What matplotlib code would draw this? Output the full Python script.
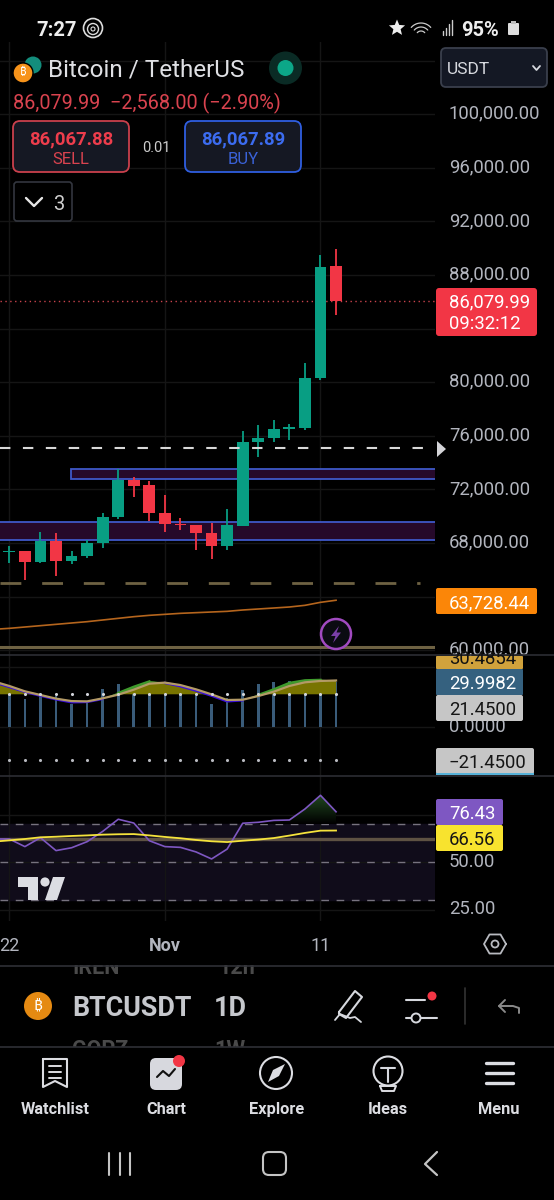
import numpy as np
import matplotlib
matplotlib.use('Agg')
import matplotlib.pyplot as plt
from matplotlib import font_manager as fm
from matplotlib.ft2font import FT2Font
from matplotlib.patches import FancyBboxPatch, Rectangle, Circle, Polygon

plt.rcParams['font.family'] = ['Roboto', 'DejaVu Sans']

# ---------- data ----------
days = list(range(-1, 22))
candle_days = list(range(0, 22))
opens  = [67328, 67378, 66581, 68124, 66631, 67054, 67975, 69915, 72701, 72303, 70213, 69442, 69318, 68721, 67776, 69268, 75512, 75810, 76507, 76607, 80338, 88648]
closes = [67402, 66581, 68124, 66631, 67054, 67975, 69915, 72701, 72278, 70213, 69442, 69343, 68721, 67776, 69318, 75512, 75810, 76482, 76631, 80338, 88622, 86080]
highs  = [67776, 67378, 68795, 68721, 67402, 68223, 70213, 73547, 72900, 72651, 71557, 69840, 69318, 69467, 70537, 76383, 76806, 77154, 76855, 81457, 89492, 89915]
lows   = [66532, 65238, 66482, 65562, 66407, 66905, 67601, 69766, 71407, 69616, 68820, 68945, 67452, 66830, 67477, 69268, 74393, 75537, 75686, 76432, 80189, 85040]
ma_line = [61557, 61632, 61731, 61831, 61930, 62030, 62129, 62254, 62378, 62502, 62602, 62676, 62751, 62801, 62851, 62900, 63000, 63075, 63149, 63224, 63348, 63572, 63728]
price_ticks = [60000, 64000, 68000, 72000, 76000, 80000, 84000, 88000, 92000, 96000, 100000, 104000]
hidden_price_labels = [64000, 84000, 104000]
last_price = 86079.99
level_white = 75100
level_tan_dash = 65024
level_tan_solid = 60224
zone_upper = (72757, 73522)
zone_lower = (68224, 69590)

hist = [21.2, 18.4, 21.2, 20.1, 15.3, 16.8, 25.1, 28.4, 26.2, 28.9, 25.6, 22.3, 20.5, 15.3, 19.0, 24.0, 28.0, 29.3, 29.9, 29.9, 28.9, 29.5]
di_line = [29.3, 26.2, 23.0, 20.5, 18.1, 16.2, 16.4, 18.4, 22.3, 26.4, 29.9, 28.9, 26.7, 23.8, 20.5, 16.8, 17.5, 21.0, 24.7, 28.9, 30.6, 30.9, 30.0]
adx_line = [29.9, 26.9, 23.4, 21.0, 18.6, 17.0, 16.8, 18.8, 21.2, 24.5, 28.4, 29.1, 27.5, 24.7, 21.4, 17.7, 17.9, 20.3, 23.2, 26.9, 29.3, 30.2, 30.49]
macd_level = 21.45

rsi = [62.1, 62.1, 58.1, 62.8, 56.0, 57.5, 60.7, 66.1, 72.5, 70.5, 61.2, 58.1, 57.7, 55.3, 51.6, 56.8, 70.4, 70.9, 71.9, 72.1, 77.9, 85.1, 76.43]
rsi_ma = [60.7, 61.4, 62.1, 63.0, 63.3, 63.7, 64.0, 64.4, 64.6, 64.7, 64.0, 63.2, 62.5, 61.6, 60.9, 60.5, 61.2, 61.8, 62.6, 63.9, 65.3, 66.5, 66.56]
rsi_levels = [70, 50, 30]
rsi_mid = 62
time_ticks = [0, 10, 20]
time_labels = ['22', 'Nov', '11']

# ---------- layout ----------
W, H = 554, 1200
GREEN, RED = '#089e83', '#f23645'
GRID = '#151515'
LAB = '#b2b5be'
fig = plt.figure(figsize=(W / 100, H / 100), dpi=100, facecolor='black')

def pane(top, bottom):
    a = fig.add_axes([0, 1 - bottom / H, 435 / W, (bottom - top) / H], facecolor='none')
    a.set_xlim(-0.6, 27.36)
    for s in a.spines.values():
        s.set_visible(False)
    a.tick_params(length=0, colors=LAB, labelsize=13.3, pad=10)
    a.yaxis.tick_right()
    a.set_xticks(time_ticks)
    a.set_xticklabels([])
    a.grid(True, color=GRID, lw=1)
    a.set_axisbelow(True)
    return a

x_all = np.array(days)

# price pane
ax = pane(42, 655)
ax.set_ylim(88000 - (655 - 275) / 0.0134, 88000 + (275 - 42) / 0.0134)
ax.set_yticks(price_ticks)
ax.set_yticklabels(['' if t in hidden_price_labels else f'{t:,.2f}' for t in price_ticks], va='center')
for lab in ax.get_yticklabels():
    lab.set_transform(lab.get_transform() + matplotlib.transforms.ScaledTranslation(0, 0.5 / 100, fig.dpi_scale_trans))
for lo, hi, x0 in [(*zone_upper, 3.98), (*zone_lower, -2)]:
    ax.add_patch(Rectangle((x0, lo), 30 - x0, hi - lo, fc='#26092a', ec='#3f58c8', lw=1.3, zorder=1.5))
ax.axhline(level_tan_solid, color='#6e6243', lw=2.2, zorder=1.6)
ax.plot([-0.6, 26.4], [level_tan_dash] * 2, color='#6e6243', lw=2, dashes=(7.5, 7.5), zorder=1.6)
ax.plot(x_all, ma_line, color='#b5651d', lw=1.2, zorder=1.7)
ax.axhline(last_price, color='#c8434d', lw=1, ls=(0, (1, 2.5)), zorder=1.7)
ax.plot([-0.6, 27.36], [level_white] * 2, color='#d8d8d8', lw=1.5, dashes=(5, 6), zorder=4)
cols = [GREEN if c >= o else RED for o, c in zip(opens, closes)]
ax.vlines(candle_days, lows, highs, colors=cols, lw=1.3, zorder=2)
bot = np.minimum(opens, closes)
hgt = np.maximum(np.abs(np.array(closes) - np.array(opens)), 60)
ax.bar(candle_days, hgt, bottom=bot, width=0.76, color=cols, zorder=3)

# MACD / DI pane
am = pane(655, 775.5)
am.set_ylim(-(775.5 - 727) / 1.525, (727 - 655) / 1.525)
am.set_yticks([0, 39.3])
am.set_yticklabels(['0.0000', ''], va='center')
di = np.array(di_line); adx = np.array(adx_line)
top_line = np.maximum(di, adx)
am.bar(candle_days, hist, width=0.17, color='#3a5c7a', zorder=2)
am.fill_between(x_all, macd_level, top_line, where=top_line >= macd_level, interpolate=True, color='#787400', lw=0, zorder=2.5)
am.fill_between(x_all, di, adx, where=di >= adx, interpolate=True, color='#3f8a2c', lw=0.6, zorder=2.6)
am.scatter(candle_days, [macd_level] * 22, s=5, color='#d2d4da', lw=0, zorder=5)
am.scatter(candle_days, [-macd_level] * 22, s=5, color='#b8bac0', lw=0, zorder=5)
di_up = np.where(di >= adx, di, np.nan)
di_dn = np.where(di <= adx, di, np.nan)
am.plot(x_all, di_dn, color='#3a10d8', lw=1.7, zorder=3)
am.plot(x_all, di_up, color='#3f9a2c', lw=1.7, zorder=3)
am.plot(x_all, adx, color='#b39a66', lw=1.6, zorder=3.2)

# RSI pane
ar = pane(776, 921)
ylim_r = (50 - (921 - 862) / 1.9, 50 + (862 - 776) / 1.9)
ar.set_yticks([25, 50, 75])
ar.set_yticklabels(['25.00', '50.00', ''], va='center')
ar.axhspan(rsi_levels[2], rsi_levels[0], color='#100c1a', zorder=0.5)
for lv in rsi_levels:
    ar.plot([-0.6, 27.36], [lv, lv], color='#77737f', lw=1, dashes=(5.5, 5.5), zorder=1)
ar.axhline(rsi_mid, color='#5e5243', lw=2.4, zorder=1.2)
rsi_arr = np.array(rsi)
poly = ar.fill_between(x_all, rsi_levels[0], rsi_arr, where=rsi_arr >= rsi_levels[0], interpolate=True, color='none', lw=0)
ramp = np.linspace(1, 0, 32)[:, None]
rgba = np.dstack([ramp * 0x22 / 255, ramp * 0x4c / 255, ramp * 0x22 / 255, np.ones_like(ramp)])
img = ar.imshow(rgba, origin='upper', extent=[-0.6, 27.36, 70, 86], aspect='auto', zorder=1.1)
img.set_clip_path(poly.get_paths()[-1], transform=ar.transData)
ar.set_xlim(-0.6, 27.36)
ar.set_ylim(*ylim_r)
ar.plot(x_all, rsi_arr, color='#7e57c2', lw=1.2, zorder=2)
ar.plot(x_all, rsi_ma, color='#f5e33c', lw=1.3, zorder=3)
ar.set_xticklabels(time_labels)
ar.tick_params(axis='x', pad=11.5, labelsize=13)
ar.get_xticklabels()[1].set_fontweight('bold')

# ---------- UI overlay in pixel coordinates ----------
ui = fig.add_axes([0, 0, 1, 1], facecolor='none', zorder=10)
ui.set_xlim(0, W); ui.set_ylim(H, 0); ui.axis('off')

def T(x, y, s, size=13.3, color='white', ha='left', weight='normal', z=20):
    return ui.text(x, y, s, fontsize=size, color=color, ha=ha, va='center_baseline', fontweight=weight, zorder=z)

def box(x0, y0, x1, y1, fc, ec='none', r=3, lw=1.2, z=12):
    ui.add_patch(FancyBboxPatch((x0 + r, y0 + r), x1 - x0 - 2 * r, y1 - y0 - 2 * r,
                 boxstyle=f'round,pad={r},rounding_size={r}', fc=fc, ec=ec, lw=lw, zorder=z))

def L(xs, ys, color='#d6d8de', lw=1.5, z=20):
    ui.plot(xs, ys, color=color, lw=lw, zorder=z, solid_capstyle='round', solid_joinstyle='round')

BTC_FAMILY = None
for fam in ('DejaVu Sans', 'Noto Sans', 'Liberation Sans', 'Open Sans', 'Lato', 'Inter', 'Roboto', 'Noto Sans CJK SC'):
    try:
        if FT2Font(fm.findfont(fam, fallback_to_default=False)).get_char_index(0x20BF):
            BTC_FAMILY = fam
            break
    except Exception:
        pass

def btc(x, y, size):
    if BTC_FAMILY:
        ui.text(x, y, '₿', fontsize=size, color='white', ha='center', va='center', fontweight='bold', family=[BTC_FAMILY, 'DejaVu Sans'], zorder=22)
    else:
        ui.text(x, y, 'B', fontsize=size, color='white', ha='center', va='center', fontweight='bold', zorder=22)

# status bar
T(36, 28, '7:27', 14.5, '#eeeeee', weight='bold')
ui.add_patch(Circle((93, 28), 9.5, fc='none', ec='#ddd', lw=1.2, zorder=20))
ui.add_patch(Circle((93, 29), 5.5, fc='none', ec='#ddd', lw=1, zorder=20))
ui.add_patch(Circle((93, 29), 2, fc='none', ec='#ddd', lw=.8, zorder=20))
star = [(397 + r * np.sin(a), 28 - r * np.cos(a)) for a, r in zip(np.arange(10) * np.pi / 5, [8.5, 3.8] * 5)]
ui.add_patch(Polygon(star, fc='#eeeeee', zorder=20))
for r in (5, 9, 13):
    t = np.linspace(-np.pi * .27, np.pi * .27, 12)
    L(421 + r * 1.0 * np.sin(t), 36 - r * np.cos(t), '#ccc', .9)
for i, hh in enumerate((4, 7, 11, 15)):
    L([443 + i * 3] * 2, [35, 35 - hh], '#ccc', 1)
T(461, 28, '95%', 14.5, '#eeeeee', weight='bold')
box(508, 23, 519, 35, '#dddddd', r=1)
ui.add_patch(Rectangle((511, 20.5), 5, 3, fc='#bbbbbb', zorder=20))

# header
ui.add_patch(Circle((33, 65), 8.5, fc='#138d7c', zorder=13))
ui.add_patch(Circle((23, 73), 10, fc='#f7931a', ec='black', lw=1, zorder=14))
btc(23, 73, 8)
T(48, 68, 'Bitcoin / TetherUS', 17.5, '#dfe0e4')
ui.add_patch(Circle((285.5, 68), 16.5, fc='#0a2b25', zorder=13))
ui.add_patch(Circle((285.5, 68), 8, fc='#0ca788', zorder=14))
T(13, 101, '86,079.99  −2,568.00 (−2.90%)', 14.3, '#d9434f')
box(13, 121, 129, 172, '#151823', '#c9404c', r=7, lw=1.3)
T(71, 137, '86,067.88', 13.3, '#ee3d4c', 'center', 'bold')
T(71, 158, 'SELL', 12, '#d9434f', 'center')
T(156, 147, '0.01', 10.5, '#cccccc', 'center')
box(185, 121, 301, 172, '#151823', '#2f5ee0', r=7, lw=1.3)
T(243, 137, '86,067.89', 13.3, '#3c6cf0', 'center', 'bold')
T(243, 158, 'BUY', 12, '#3a62d8', 'center')
box(14, 182, 72, 221, '#000000', '#33363f', r=3, lw=1.2)
L([26, 34, 42], [198, 206, 198], '#e6e6e6', 1.7)
T(53, 202, '3', 14.5, '#cfcfcf')
box(441, 48, 547, 87, '#141824', '#3a3f4c', r=5, lw=1.3)
T(447, 68, 'USDT', 12.5, '#d7d9df')
L([533, 536.5, 540], [66, 70, 66], '#d7d9df', 1.3)

# price pane labels
box(436, 288, 537, 336, '#f23645', r=3)
T(449, 300, '86,079.99', 13.3, 'white', z=21)
T(449, 322, '09:32:12', 13.3, 'white', z=21)
ui.add_patch(Polygon([(437, 441), (446, 449), (437, 457)], fc='#d4d4d8', zorder=15))
box(436, 588, 537, 614, '#fb8608', r=2)
T(449, 601, '63,728.44', 13.3, 'white', z=21)
ui.add_patch(Circle((336, 634), 15, fc='#0b0b12', ec='#a14ac0', lw=1.8, zorder=15))
ui.add_patch(Polygon([(339, 626), (331, 636), (335.5, 636), (333, 643), (341, 632.5), (336.5, 632.5)], fc='#7b3fa8', zorder=16))
L([0, 554], [655, 655], '#2c2d33', 1.2, 11)
box(436, 656, 523, 669, '#d0a23c', r=1, z=12)
T(449, 657, '30.4854', 13.3, '#111111', z=13)
box(436, 669, 523, 695, '#35617f', r=1, z=14)
T(449, 682, '29.9982', 13.3, 'white')
box(436, 695, 523, 721, '#c6c6c6', r=2, z=14)
T(449, 708, '21.4500', 13.3, '#151515')
box(436, 748, 534, 774, '#c6c6c6', r=2, z=14)
T(449, 761, '−21.4500', 13.3, '#151515')
ui.add_patch(Rectangle((436, 773), 98, 2, fc='#56b1d8', zorder=15))
L([0, 554], [775.5, 775.5], '#2c2d33', 1.2, 11)
box(436, 799, 503, 825, '#7e57c2', r=2, z=14)
T(449, 812, '76.43', 13.3, 'white')
box(436, 825, 503, 851, '#f8e32e', r=2, z=14)
T(449, 838, '66.56', 13.3, '#151515')

# TradingView logo
ui.add_patch(Polygon([(18, 877), (38, 877), (38, 900), (27.5, 900), (27.5, 887), (18, 887)], fc='#dcdde3', zorder=15))
ui.add_patch(Circle((45, 882), 4.6, fc='#dcdde3', zorder=15))
ui.add_patch(Polygon([(53, 877), (65, 877), (57, 900), (45, 900)], fc='#dcdde3', zorder=15))

# hexagon
hx = 495 + 11 * np.cos(np.arange(7) * np.pi / 3)
hy = 944 + 11 * np.sin(np.arange(7) * np.pi / 3)
L(hx, hy, '#b8bac0', 1.3)
ui.add_patch(Circle((495, 944), 3.5, fc='none', ec='#b8bac0', lw=1.3, zorder=20))

# bottom toolbar
T(72, 965, 'IREN', 15.5, '#4a4a4a', weight='bold', z=12)
T(218, 965, '12h', 15.5, '#4a4a4a', weight='bold', z=12)
T(72, 1047, 'GOPZ', 15.5, '#4a4a4a', weight='bold', z=12)
T(214, 1047, '1W', 15.5, '#4a4a4a', weight='bold', z=12)
ui.add_patch(Rectangle((0, 953), W, 12, fc='black', zorder=13))
ui.add_patch(Rectangle((0, 1047), W, 20, fc='black', zorder=13))
L([0, 554], [965.5, 965.5], '#2e2f35', 1.2, 14)
L([0, 554], [1047, 1047], '#2e2f35', 1.2, 14)
ui.add_patch(Circle((38, 1006), 14, fc='#e58a12', zorder=15))
btc(38, 1006, 11)
T(72, 1005, 'BTCUSDT', 19.4, '#c6c8cd', weight='bold')
T(214, 1005, '1D', 19.4, '#c6c8cd', weight='bold')
L([339, 355, 362, 346, 339, 339], [1012, 991, 997, 1018, 1014, 1012], '#d6d8de', 1.5)
L([335, 340, 350, 355, 361], [1020, 1014, 1018, 1017, 1022], '#d6d8de', 1.3)
L([406, 425], [1000, 1000]); L([406, 437], [1018, 1018])
ui.add_patch(Circle((416, 1018), 4.5, fc='black', ec='#d6d8de', lw=1.4, zorder=21))
ui.add_patch(Circle((432, 996), 4.5, fc='#f23645', zorder=21))
L([465, 465], [988, 1024], '#333', 1.2)
L([505, 499, 505], [1000, 1006, 1012], '#8a8a8a', 1.4)
L([499, 513, 519, 519], [1006, 1006, 1008, 1013], '#8a8a8a', 1.4)

# nav labels
for x, s in zip((55, 166, 277, 388, 499), ('Watchlist', 'Chart', 'Explore', 'Ideas', 'Menu')):
    T(x, 1108, s, 11.8, '#dcdde2', 'center', 'bold')
# watchlist icon
L([43, 67, 67, 55, 43, 43], [1059, 1059, 1087, 1081, 1087, 1059], '#dcdde2', 1.5)
for y in (1066, 1072, 1078):
    L([49, 61], [y, y], '#dcdde2', 1.4)
# chart icon
box(150, 1058, 182, 1090, '#d7d8de', r=6, z=18)
L([157, 163, 169, 175], [1077, 1071, 1076, 1069], '#111', 1.5, 21)
ui.add_patch(Circle((179, 1061), 6, fc='#f23645', zorder=22))
# explore icon
ui.add_patch(Circle((276, 1073), 16, fc='none', ec='#dcdde2', lw=1.5, zorder=20))
ui.add_patch(Polygon([(268, 1082), (273, 1070), (285, 1064), (279, 1076)], fc='#dcdde2', zorder=20))
# ideas icon
ui.add_patch(Circle((388, 1071), 14.5, fc='none', ec='#dcdde2', lw=1.5, zorder=20))
L([381, 395], [1068, 1068]); L([388, 388], [1068, 1082])
L([380, 396, 394, 382, 380], [1086, 1086, 1091, 1091, 1086], '#dcdde2', 1.4)
# menu icon
for y in (1063, 1073, 1083):
    L([486, 513], [y, y], '#dcdde2', 2.4)
# android nav
for x in (109, 120, 130):
    L([x, x], [1153, 1175], '#c4c4c4', 1.5)
box(263, 1152, 286, 1175, 'none', '#c4c4c4', r=6, lw=1.5)
L([437, 425, 437], [1152, 1164, 1175], '#c4c4c4', 1.6)

fig.savefig('out.png', dpi=100, facecolor='black')
